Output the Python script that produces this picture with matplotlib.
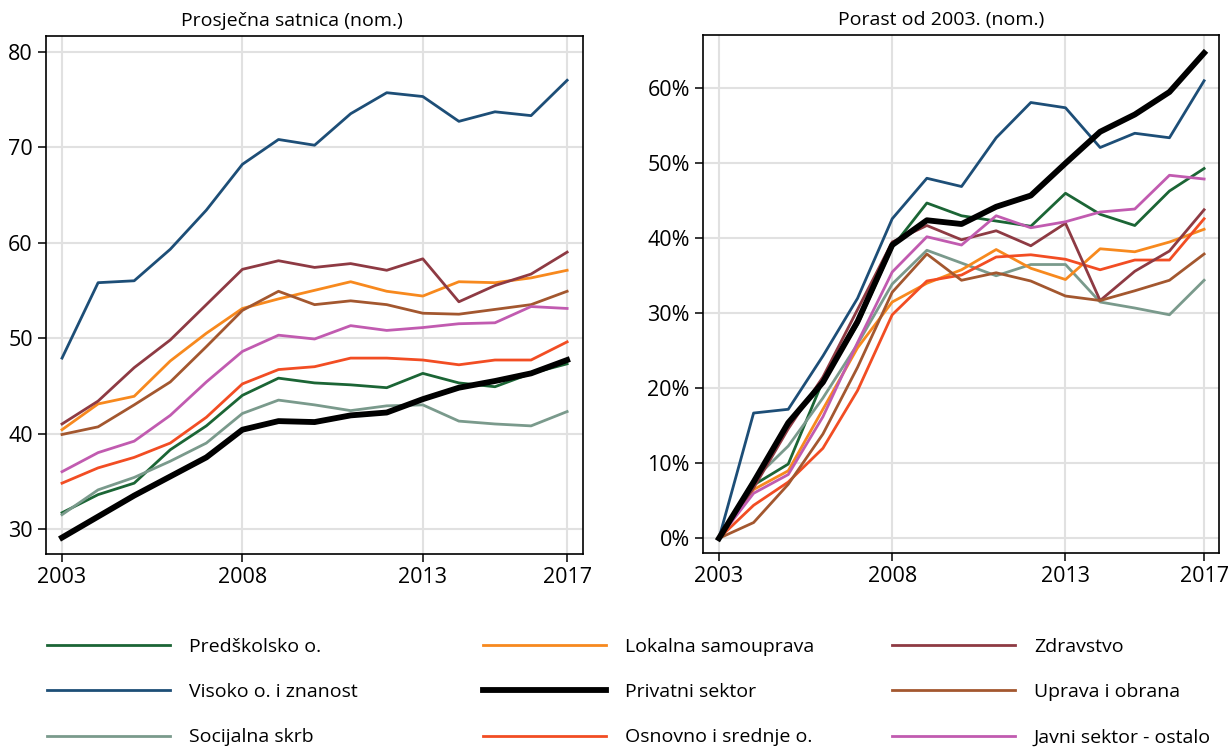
# Prosječna satnica i porast od 2003., po sektorima
import matplotlib
matplotlib.use("Agg")
import matplotlib.pyplot as plt
from matplotlib.ticker import FuncFormatter

plt.rcParams['font.family'] = ['Open Sans', 'DejaVu Sans']

years = list(range(2003, 2018))

labels = ["Predškolsko o.", "Visoko o. i znanost", "Socijalna skrb",
          "Lokalna samouprava", "Privatni sektor", "Osnovno i srednje o.",
          "Zdravstvo", "Uprava i obrana", "Javni sektor - ostalo"]
colors = ["#1b6535", "#1d4e77", "#7a9a8c",
          "#f7891e", "#000000", "#f24d23",
          "#8e3a43", "#a3572f", "#c15bb0"]

# prosjecna satnica (nom.)
predskolsko = [31.7, 33.6, 34.8, 38.3, 40.8, 44.0, 45.8, 45.3, 45.1, 44.8, 46.3, 45.3, 44.9, 46.3, 47.3]
visoko = [47.9, 55.8, 56.0, 59.3, 63.4, 68.2, 70.8, 70.2, 73.5, 75.7, 75.3, 72.7, 73.7, 73.3, 77.0]
socijalna = [31.5, 34.1, 35.4, 37.1, 39.0, 42.1, 43.5, 43.0, 42.4, 42.9, 43.0, 41.3, 41.0, 40.8, 42.3]
lokalna = [40.4, 43.1, 43.9, 47.6, 50.5, 53.1, 54.1, 55.0, 55.9, 54.9, 54.4, 55.9, 55.8, 56.3, 57.1]
privatni = [29.1, 31.3, 33.5, 35.5, 37.5, 40.4, 41.3, 41.2, 41.9, 42.2, 43.6, 44.8, 45.5, 46.3, 47.7]
osnovno = [34.8, 36.4, 37.5, 39.0, 41.7, 45.2, 46.7, 47.0, 47.9, 47.9, 47.7, 47.2, 47.7, 47.7, 49.6]
zdravstvo = [41.0, 43.4, 46.9, 49.8, 53.5, 57.2, 58.1, 57.4, 57.8, 57.1, 58.3, 53.8, 55.5, 56.7, 59.0]
uprava = [39.9, 40.7, 43.0, 45.4, 49.1, 52.9, 54.9, 53.5, 53.9, 53.5, 52.6, 52.5, 53.0, 53.5, 54.9]
javni = [36.0, 38.0, 39.2, 41.9, 45.4, 48.6, 50.3, 49.9, 51.3, 50.8, 51.1, 51.5, 51.6, 53.3, 53.1]

# porast od 2003. (%)
predskolsko_g = [0, 7.1, 9.9, 21.0, 28.5, 38.8, 44.7, 43.0, 42.3, 41.6, 46.0, 43.2, 41.7, 46.3, 49.3]
visoko_g = [0, 16.7, 17.2, 24.3, 32.0, 42.6, 48.0, 46.9, 53.4, 58.1, 57.4, 52.1, 54.0, 53.4, 61.0]
socijalna_g = [0, 7.8, 12.3, 18.7, 25.9, 33.9, 38.4, 36.7, 35.0, 36.5, 36.5, 31.5, 30.7, 29.8, 34.4]
lokalna_g = [0, 6.5, 9.0, 17.2, 25.4, 31.5, 34.0, 35.8, 38.5, 36.0, 34.5, 38.6, 38.2, 39.5, 41.2]
privatni_g = [0, 7.5, 15.4, 20.8, 28.9, 39.1, 42.4, 41.9, 44.2, 45.7, 50.0, 54.2, 56.5, 59.5, 64.7]
osnovno_g = [0, 4.4, 7.5, 12.0, 19.7, 29.8, 34.3, 35.1, 37.5, 37.8, 37.2, 35.8, 37.1, 37.1, 42.6]
zdravstvo_g = [0, 6.7, 14.6, 21.5, 30.5, 39.5, 41.7, 39.8, 41.0, 39.0, 42.0, 31.7, 35.6, 38.3, 43.8]
uprava_g = [0, 2.1, 7.2, 13.9, 22.8, 32.8, 37.9, 34.4, 35.4, 34.3, 32.3, 31.7, 33.0, 34.4, 37.9]
javni_g = [0, 6.0, 8.5, 16.2, 26.1, 35.5, 40.2, 39.1, 43.0, 41.4, 42.2, 43.5, 43.9, 48.4, 47.9]

levels = [predskolsko, visoko, socijalna, lokalna, privatni, osnovno, zdravstvo, uprava, javni]
growth = [predskolsko_g, visoko_g, socijalna_g, lokalna_g, privatni_g, osnovno_g,
          zdravstvo_g, uprava_g, javni_g]

W, H = 1231, 748
fig = plt.figure(figsize=(W / 100, H / 100), dpi=100)
ax1 = fig.add_axes([46 / W, 1 - 554 / H, (583 - 46) / W, (554 - 36) / H])
ax2 = fig.add_axes([703 / W, 1 - 553 / H, (1219 - 703) / W, (553 - 35) / H])

handles = []
for ax, data in [(ax1, levels), (ax2, growth)]:
    for lab, col, ys in zip(labels, colors, data):
        black = lab == "Privatni sektor"
        ln, = ax.plot(years, ys, color=col, lw=4.2 if black else 2.0,
                      zorder=5 if black else 3, label=lab)
        if ax is ax1:
            handles.append(ln)
    ax.set_xticks([2003, 2008, 2013, 2017])
    ax.grid(True, color="#e1e1e1", lw=1.5, zorder=0)
    ax.set_axisbelow(True)
    ax.tick_params(axis="both", labelsize=15.5, length=6, width=1.1, direction="out")
    for s in ax.spines.values():
        s.set_linewidth(1.2)

ax1.set_xlim(2002.556, 2017.44)
ax1.set_ylim(27.38, 81.64)
ax1.set_yticks([30, 40, 50, 60, 70, 80])
ax1.set_title("Prosječna satnica (nom.)", fontsize=14, pad=7, x=0.458)

ax2.set_xlim(2002.54, 2017.43)
ax2.set_ylim(-1.96, 67.1)
ax2.set_yticks([0, 10, 20, 30, 40, 50, 60])
ax2.yaxis.set_major_formatter(FuncFormatter(lambda v, p: f"{v:.0f}%"))
ax2.set_title("Porast od 2003. (nom.)", fontsize=14, pad=7, x=0.461)

# legenda u tri stupca
col_x = [47, 483, 892]
for c in range(3):
    hs = handles[c * 3:(c + 1) * 3]
    fig.legend(handles=hs, labels=[h.get_label() for h in hs],
               loc="upper left", bbox_to_anchor=(col_x[c] / W, 1 - 638 / H),
               frameon=False, fontsize=14, handlelength=6.3, handletextpad=1.0,
               labelspacing=1.4, borderpad=0, borderaxespad=0)

fig.savefig("out.png", dpi=100)
